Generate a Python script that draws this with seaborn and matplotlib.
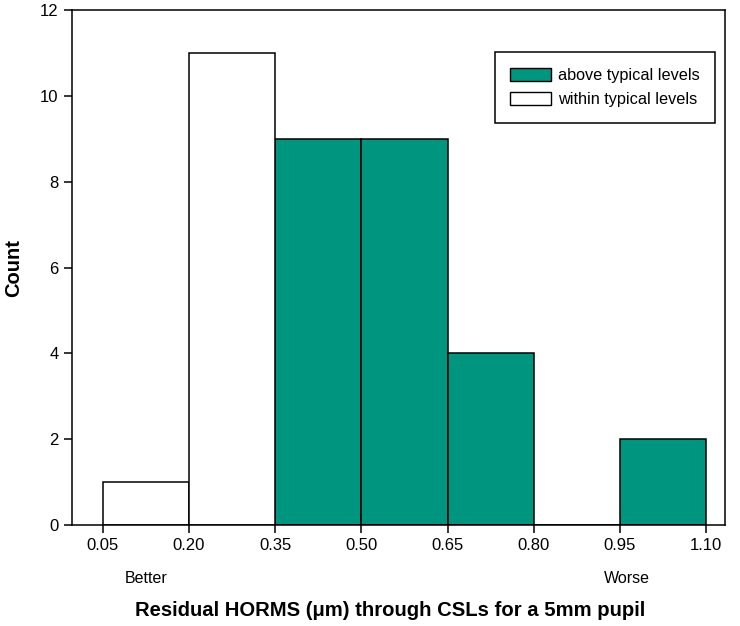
import numpy as np
import matplotlib
matplotlib.use('Agg')
import matplotlib.pyplot as plt
from matplotlib.patches import Patch
import pandas as pd
import seaborn as sns

# Data
bin_edges = [0.05, 0.20, 0.35, 0.50, 0.65, 0.80, 0.95, 1.10]
bin_counts = [1, 11, 9, 9, 4, 0, 2]
bin_group = ['within typical levels', 'within typical levels',
             'above typical levels', 'above typical levels',
             'above typical levels', 'above typical levels',
             'above typical levels']
y_ticks = [0, 2, 4, 6, 8, 10, 12]

green = '#00957F'

centers = [(a + b) / 2 for a, b in zip(bin_edges[:-1], bin_edges[1:])]
DF = pd.DataFrame({'value': centers, 'count': bin_counts, 'group': bin_group})
DF = DF[DF['count'] > 0]

sns.set_style('ticks')
plt.rcParams['font.family'] = ['Liberation Sans', 'DejaVu Sans']
plt.rcParams['text.color'] = 'black'
plt.rcParams['axes.labelcolor'] = 'black'

fig = plt.figure(figsize=(7.4, 6.26), dpi=100)
ax = fig.add_axes([0.097, 0.161, 0.883, 0.823])

sns.histplot(data=DF, x='value', weights='count', bins=bin_edges, hue='group',
             palette={'above typical levels': green, 'within typical levels': 'white'},
             alpha=1, edgecolor='black', linewidth=1.1, legend=False, ax=ax)

ax.set_xlim(-0.004, 1.133)
ax.set_ylim(0, 12)
ax.set_xticks(bin_edges)
ax.set_xticklabels([f'{e:.2f}' for e in bin_edges])
ax.set_yticks(y_ticks)
ax.tick_params(direction='out', length=6, width=1.1, labelsize=12, colors='black')
for s in ax.spines.values():
    s.set_linewidth(1.1)
    s.set_color('black')

ax.set_ylabel('Count', fontsize=14.5, fontweight='bold', labelpad=12)
ax.set_xlabel('Residual HORMS (\u03bcm) through CSLs for a 5mm pupil',
              fontsize=14.6, fontweight='bold')
ax.xaxis.set_label_coords(0.487, -0.147)

# annotations under the x axis (x in data units)
ax.text(0.125, -0.103, 'Better', transform=ax.get_xaxis_transform(),
        ha='center', va='center', fontsize=11.5)
ax.text(0.962, -0.103, 'Worse', transform=ax.get_xaxis_transform(),
        ha='center', va='center', fontsize=11.5)

handles = [Patch(facecolor=green, edgecolor='black', linewidth=1),
           Patch(facecolor='white', edgecolor='black', linewidth=1)]
leg = ax.legend(handles, ['above typical levels', 'within typical levels'],
                loc='upper right', bbox_to_anchor=(0.985, 0.918), borderaxespad=0,
                fontsize=11.7, fancybox=False, edgecolor='black', framealpha=1,
                handlelength=2.5, handleheight=0.9, borderpad=0.95, labelspacing=0.55,
                handletextpad=0.45)
leg.get_frame().set_linewidth(1.1)

fig.savefig('out.png', dpi=100)
